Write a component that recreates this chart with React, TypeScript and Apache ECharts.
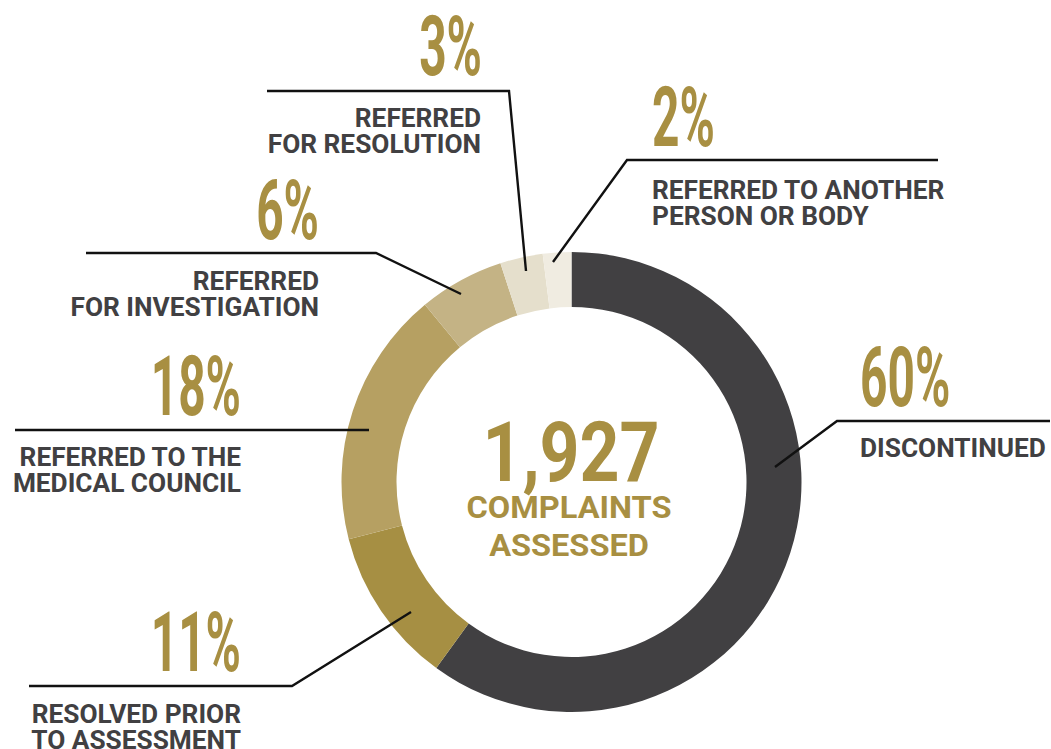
import React, { useEffect, useRef } from "react";
import * as echarts from "echarts";

// ---- data ----
const categories = [
  "DISCONTINUED",
  "RESOLVED PRIOR\nTO ASSESSMENT",
  "REFERRED TO THE\nMEDICAL COUNCIL",
  "REFERRED\nFOR INVESTIGATION",
  "REFERRED\nFOR RESOLUTION",
  "REFERRED TO ANOTHER\nPERSON OR BODY",
];
const percentValues = [60, 11, 18, 6, 3, 2];
const totalComplaints = "1,927";
const centerCaption = "COMPLAINTS\nASSESSED";

// ---- styles / layout (not data) ----
const sliceColors = ["#414042", "#A68F43", "#B6A062", "#C4B385", "#E5DFCC", "#F0ECE1"];
const GOLD = "#A88F42";
const DARK = "#414042";
const FONT = "Roboto, 'Noto Sans', sans-serif";

// annotation layout per slice: leader line points, percent anchor, label anchor
const annotations = [
  { line: [[775, 467], [837, 421], [1050, 421]], pct: [860, 378, "left"], lab: [860, 448, "left"] },
  { line: [[411, 612], [292, 686], [29, 686]], pct: [241, 643, "right"], lab: [241, 727, "right"] },
  { line: [[369, 430], [15, 430]], pct: [241, 387, "right"], lab: [241, 470, "right"] },
  { line: [[461, 294], [376, 253], [86, 253]], pct: [319, 211, "right"], lab: [319, 294, "right"] },
  { line: [[526, 271], [509, 91], [267, 91]], pct: [482, 47, "right"], lab: [481, 131, "right"] },
  { line: [[553, 262], [627, 160], [938, 160]], pct: [652, 118, "left"], lab: [652, 203, "left"] },
];

export default function App() {
  const ref = useRef<HTMLDivElement>(null);
  useEffect(() => {
    if (!ref.current) return;
    const chart = echarts.init(ref.current, null, { renderer: "svg" });
    const graphics: any[] = [];
    annotations.forEach((a, i) => {
      graphics.push({
        type: "polyline",
        z: 100,
        shape: { points: a.line },
        style: { stroke: "#111", lineWidth: 2.4, fill: null },
      });
      graphics.push({
        type: "text",
        z: 100,
        x: a.pct[0],
        y: a.pct[1],
        scaleX: 0.57,
        style: {
          text: percentValues[i] + "%",
          fill: GOLD,
          font: `bold 84px ${FONT}`,
          align: a.pct[2],
          verticalAlign: "middle",
        },
      });
      graphics.push({
        type: "text",
        z: 100,
        x: a.lab[0],
        y: a.lab[1],
        scaleX: 1.05,
        style: {
          text: categories[i],
          fill: DARK,
          font: `bold 25px ${FONT}`,
          lineHeight: 26,
          align: a.lab[2],
          verticalAlign: "middle",
        },
      });
    });
    graphics.push({
      type: "text",
      z: 100,
      x: 571,
      y: 452,
      scaleX: 0.83,
      style: {
        text: totalComplaints,
        fill: GOLD,
        font: `bold 84px ${FONT}`,
        align: "center",
        verticalAlign: "middle",
      },
    });
    graphics.push({
      type: "text",
      z: 100,
      x: 569,
      y: 527,
      scaleX: 1.05,
      style: {
        text: centerCaption,
        fill: GOLD,
        font: `bold 31px ${FONT}`,
        lineHeight: 38,
        align: "center",
        verticalAlign: "middle",
      },
    });

    chart.setOption({
      animation: false,
      backgroundColor: "#ffffff",
      series: [
        {
          type: "pie",
          center: [571.5, 482],
          radius: [175, 230],
          startAngle: 90,
          clockwise: true,
          label: { show: false },
          labelLine: { show: false },
          emphasis: { disabled: true },
          itemStyle: { borderWidth: 0 },
          data: percentValues.map((v, i) => ({
            name: categories[i],
            value: v,
            itemStyle: { color: sliceColors[i] },
          })),
        },
      ],
      graphic: graphics,
    });
    return () => chart.dispose();
  }, []);
  return (
    <div
      ref={ref}
      style={{ position: "absolute", left: 0, top: 0, width: 1051, height: 749 }}
    />
  );
}
